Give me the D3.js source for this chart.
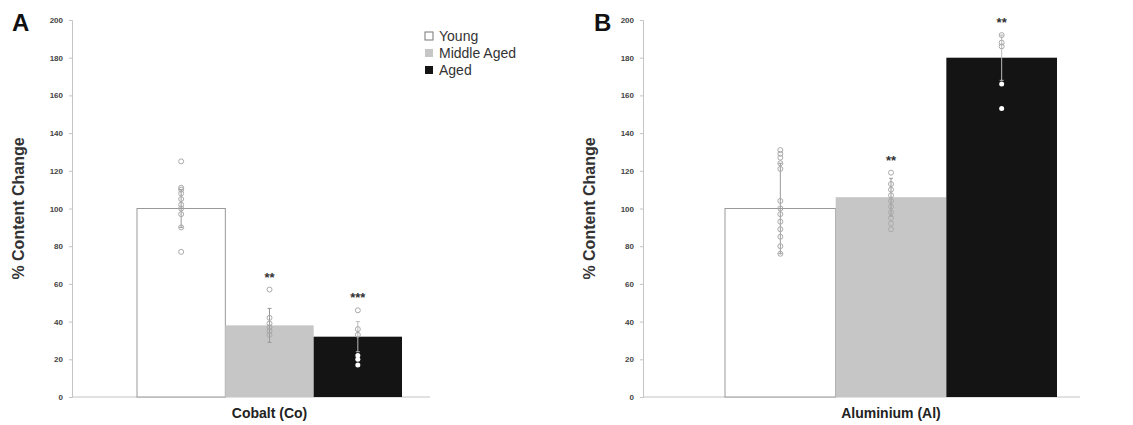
<!DOCTYPE html>
<html>
<head>
<meta charset="utf-8">
<script src="https://cdn.jsdelivr.net/npm/d3@7"></script>
<style>
  body { margin: 0; background: #fff; }
  text { font-family: "Liberation Sans", Arial, sans-serif; }
</style>
</head>
<body>
<script>
const groups = ['Young', 'Middle Aged', 'Aged'];
const groupColors = ['#ffffff', '#c6c6c6', '#141414'];
const yTicks = [0, 20, 40, 60, 80, 100, 120, 140, 160, 180, 200];

// Cobalt
const coMeans = [100, 38, 32];
const coSd = [10, 9, 8];
const coStars = ['', '**', '***'];
const coYoung = [125, 111, 110, 108, 105, 102, 100, 97, 90, 77];
const coMiddle = [57, 42, 39, 37, 35, 33];
const coAged = [46, 36, 33, 22, 20, 17];

// Aluminium
const alMeans = [100, 106, 180];
const alSd = [24, 10, 12];
const alStars = ['', '**', '**'];
const alYoung = [131, 129, 127, 124, 121, 104, 100, 97, 93, 89, 85, 80, 76];
const alMiddle = [119, 113, 110, 107, 104, 101, 98, 95, 92, 89];
const alAged = [192, 188, 186, 166, 153];

const W = 1133, H = 425;
const svg = d3.select('body').append('svg').attr('width', W).attr('height', H);

function panel(opts) {
  const y = d3.scaleLinear().domain([0, 200]).range([397, 20]);
  const x = d3.scaleBand().domain(groups).range([opts.x0, opts.x1]).paddingInner(0);
  const g = svg.append('g');

  // y axis
  const yAxis = g.append('g')
    .attr('transform', `translate(${opts.axisX},0)`)
    .call(d3.axisLeft(y).tickValues(yTicks).tickSize(3).tickPadding(6));
  yAxis.select('.domain').attr('stroke', '#c4c4c4');
  yAxis.selectAll('.tick line').attr('stroke', '#c4c4c4');
  yAxis.selectAll('.tick text').attr('fill', '#444').attr('font-size', 8).attr('font-weight', 'bold');

  // x baseline
  g.append('line')
    .attr('x1', opts.axisX).attr('x2', opts.baseEnd)
    .attr('y1', y(0)).attr('y2', y(0))
    .attr('stroke', '#c4c4c4');

  // bars
  g.selectAll('rect.bar').data(opts.means).enter().append('rect')
    .attr('class', 'bar')
    .attr('x', (d, i) => x(groups[i]))
    .attr('y', d => y(d))
    .attr('width', x.bandwidth())
    .attr('height', d => y(0) - y(d))
    .attr('fill', (d, i) => groupColors[i])
    .attr('stroke', (d, i) => i === 0 ? '#999' : 'none')
    .attr('stroke-width', 1);

  // error bars
  opts.means.forEach((m, i) => {
    const cx = x(groups[i]) + x.bandwidth() / 2;
    const col = i === 2 ? '#bbb' : '#999';
    g.append('line').attr('x1', cx).attr('x2', cx)
      .attr('y1', y(m + opts.sd[i])).attr('y2', y(m - opts.sd[i]))
      .attr('stroke', col).attr('stroke-width', 1);
    [m + opts.sd[i], m - opts.sd[i]].forEach(v => {
      g.append('line').attr('x1', cx - 2).attr('x2', cx + 2)
        .attr('y1', y(v)).attr('y2', y(v))
        .attr('stroke', col).attr('stroke-width', 1);
    });
  });

  // individual points
  opts.points.forEach((pts, i) => {
    const cx = x(groups[i]) + x.bandwidth() / 2;
    g.selectAll(null).data(pts).enter().append('circle')
      .attr('cx', cx)
      .attr('cy', d => y(d))
      .attr('r', 2.5)
      .attr('fill', d => (i === 2 && d < opts.means[i]) ? '#fff' : 'none')
      .attr('stroke', d => (i === 2 && d < opts.means[i]) ? 'none' : '#aaa')
      .attr('stroke-width', 1);
  });

  // significance stars
  opts.stars.forEach((s, i) => {
    if (!s) return;
    const cx = x(groups[i]) + x.bandwidth() / 2;
    const top = Math.max(...opts.points[i], opts.means[i] + opts.sd[i]);
    g.append('text')
      .attr('x', cx).attr('y', y(top) - 8)
      .attr('text-anchor', 'middle')
      .attr('font-size', 13).attr('font-weight', 'bold').attr('fill', '#333')
      .text(s);
  });

  // y title
  g.append('text')
    .attr('transform', `translate(${opts.axisX - 48},${y(100)}) rotate(-90)`)
    .attr('text-anchor', 'middle')
    .attr('font-size', 16).attr('font-weight', 'bold').attr('fill', '#333')
    .text('% Content Change');

  // x label
  g.append('text')
    .attr('x', (opts.x0 + opts.x1) / 2).attr('y', 418)
    .attr('text-anchor', 'middle')
    .attr('font-size', 14).attr('font-weight', 'bold').attr('fill', '#222')
    .text(opts.label);

  // panel letter
  g.append('text')
    .attr('x', opts.letterX).attr('y', 31)
    .attr('font-size', 24).attr('font-weight', 'bold').attr('fill', '#111')
    .text(opts.letter);
}

panel({
  letter: 'A', letterX: 12, axisX: 72, x0: 137, x1: 402, baseEnd: 430,
  means: coMeans, sd: coSd, stars: coStars,
  points: [coYoung, coMiddle, coAged], label: 'Cobalt (Co)'
});

panel({
  letter: 'B', letterX: 594, axisX: 643, x0: 725, x1: 1057, baseEnd: 1080,
  means: alMeans, sd: alSd, stars: alStars,
  points: [alYoung, alMiddle, alAged], label: 'Aluminium (Al)'
});

// legend
const legend = svg.append('g').attr('transform', 'translate(425,32)');
groups.forEach((gname, i) => {
  legend.append('rect')
    .attr('x', 0).attr('y', i * 17)
    .attr('width', 8).attr('height', 8)
    .attr('fill', groupColors[i])
    .attr('stroke', i === 0 ? '#777' : 'none');
  legend.append('text')
    .attr('x', 14).attr('y', i * 17 + 9)
    .attr('font-size', 14).attr('fill', '#333')
    .text(gname);
});
</script>
</body>
</html>
